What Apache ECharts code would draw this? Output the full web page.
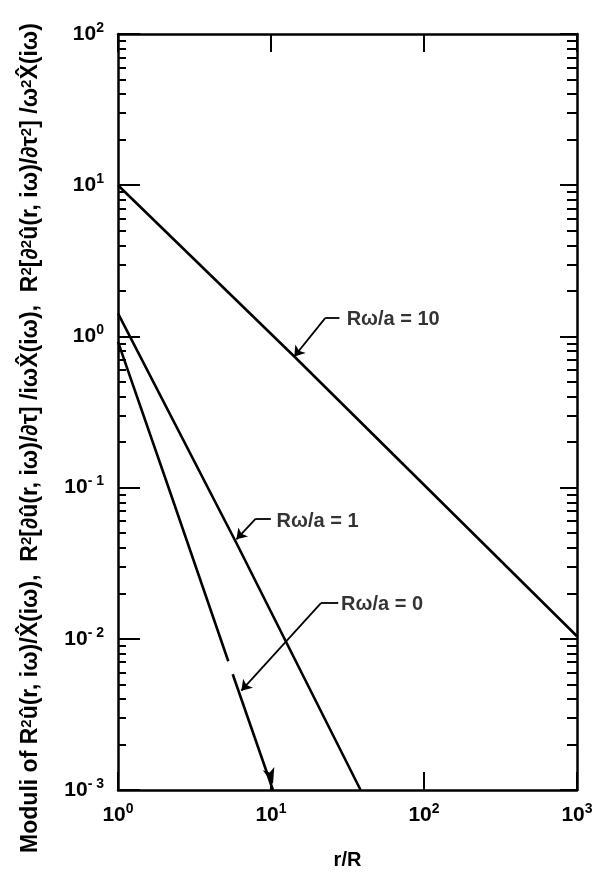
<!DOCTYPE html>
<html>
<head>
<meta charset="utf-8">
<script src="https://cdn.jsdelivr.net/npm/echarts@6/dist/echarts.min.js"></script>
<style>
html,body{margin:0;padding:0;background:#fff;}
#c{width:596px;height:875px;}
</style>
</head>
<body>
<div id="c"></div>
<script>
// ---- data ----
const xTickValues = [1, 10, 100, 1000];
const yTickValues = [0.001, 0.01, 0.1, 1, 10, 100];

const r10 = [1, 14.2, 1000];
const v10 = [10, 0.736, 0.0104];

const r1 = [1, 5.94, 12.8, 38.5];
const v1 = [1.42, 0.043, 0.00917, 0.001];

// Rω/a = 0 curve is drawn with a small break in it
const r0a = [1, 2.21, 5.26];
const v0a = [0.92, 0.091, 0.0071];
const r0b = [5.62, 10.3];
const v0b = [0.00583, 0.001];

// leader lines: [start of horizontal, corner, arrow tip]
const leader10R = [28.0, 22.6, 14.2];
const leader10V = [1.32, 1.32, 0.736];
const leader1R = [9.98, 7.95, 5.94];
const leader1V = [0.0624, 0.0624, 0.0455];
const leader0R = [27.5, 21.2, 6.4];
const leader0V = [0.0172, 0.0172, 0.00454];

const labelTexts = ['Rω/a = 10', 'Rω/a = 1', 'Rω/a = 0'];
const labelR = [31.0, 10.8, 28.5];
const labelV = [1.30, 0.0596, 0.0168];

// minor tick positions of the log axis (2..9 per decade)
const minorY = [];
[0.001, 0.01, 0.1, 1, 10].forEach(d => { for (let k = 2; k <= 9; k++) minorY.push(+(d * k).toPrecision(3)); });

const zip = (a, b) => a.map((x, i) => [x, b[i]]);
const leaders = [[leader10R, leader10V], [leader1R, leader1V], [leader0R, leader0V]];

const FONT = '"Liberation Sans", Arial, sans-serif';
const rich = {
  b: { fontSize: 21, fontWeight: 'bold', fontFamily: FONT, color: '#000', lineHeight: 26 },
  s: { fontSize: 14, fontWeight: 'bold', fontFamily: FONT, color: '#000', verticalAlign: 'top', lineHeight: 12 }
};
function powLabel(v) {
  const e = Math.round(Math.log10(v));
  return '{b|10}{s|' + (e < 0 ? '- ' + (-e) : e) + '}';
}

const axisLineStyle = { color: '#000', width: 2.5 };
const baseLog = (extra) => Object.assign({
  type: 'log', logBase: 10, splitLine: { show: false }, minorTick: { show: false }
}, extra);

const chart = echarts.init(document.getElementById('c'), null, { renderer: 'canvas' });

const option = {
  animation: false,
  backgroundColor: '#fff',
  grid: { left: 118, right: 19, top: 34, bottom: 72, containLabel: false },
  xAxis: [
    baseLog({
      position: 'bottom', min: 1, max: 1000,
      axisLine: { show: true, lineStyle: axisLineStyle },
      axisTick: { show: true, inside: true, length: 18, customValues: xTickValues, lineStyle: { color: '#000', width: 2 } },
      axisLabel: { show: true, customValues: xTickValues, formatter: powLabel, rich: rich, margin: 12 },
      name: 'r/R', nameLocation: 'middle', nameGap: 60,
      nameTextStyle: { fontSize: 20, fontWeight: 'bold', fontFamily: FONT, color: '#000' }
    }),
    baseLog({
      position: 'top', min: 1, max: 1000,
      axisLine: { show: true, lineStyle: axisLineStyle },
      axisTick: { show: true, inside: true, length: 18, customValues: xTickValues, lineStyle: { color: '#000', width: 2 } },
      axisLabel: { show: false }
    })
  ],
  yAxis: [
    baseLog({
      position: 'left', min: 0.001, max: 100,
      axisLine: { show: true, lineStyle: axisLineStyle },
      axisTick: { show: true, inside: true, length: 22, customValues: yTickValues, lineStyle: { color: '#000', width: 2 } },
      axisLabel: { show: true, customValues: yTickValues, formatter: powLabel, rich: rich, margin: 14 }
    }),
    baseLog({
      position: 'left', min: 0.001, max: 100,
      axisLine: { show: false },
      axisTick: { show: true, inside: true, length: 8, customValues: minorY, lineStyle: { color: '#000', width: 2 } },
      axisLabel: { show: false }
    }),
    baseLog({
      position: 'right', min: 0.001, max: 100,
      axisLine: { show: true, lineStyle: axisLineStyle },
      axisTick: { show: true, inside: true, length: 17, customValues: yTickValues, lineStyle: { color: '#000', width: 2 } },
      axisLabel: { show: false }
    }),
    baseLog({
      position: 'right', min: 0.001, max: 100,
      axisLine: { show: false },
      axisTick: { show: true, inside: true, length: 10, customValues: minorY, lineStyle: { color: '#000', width: 2 } },
      axisLabel: { show: false }
    })
  ],
  graphic: [{
    type: 'text',
    x: 31, y: 438,
    rotation: Math.PI / 2,
    style: {
      text: 'Moduli of R{s|2}û(r, iω)/X̂(iω),  R{s|2}[∂û(r, iω)/∂τ] /iωX̂(iω),  R{s|2}[∂{s|2}û(r, iω)/∂τ{s|2}] /ω{s|2}X̂(iω)',
      font: 'bold 23px ' + FONT,
      fill: '#000',
      align: 'center',
      verticalAlign: 'middle',
      rich: {
        s: { fontSize: 15, fontWeight: 'bold', fontFamily: FONT, fill: '#000', verticalAlign: 'top', lineHeight: 12 }
      }
    }
  }],
  series: [
    { type: 'line', name: 'Rω/a = 10', data: zip(r10, v10), symbol: 'none', lineStyle: { color: '#000', width: 2.6 } },
    { type: 'line', name: 'Rω/a = 1', data: zip(r1, v1), symbol: 'none', lineStyle: { color: '#000', width: 2.6 } },
    { type: 'line', name: 'Rω/a = 0 (a)', data: zip(r0a, v0a), symbol: 'none', lineStyle: { color: '#000', width: 2.6 } },
    {
      type: 'line', name: 'Rω/a = 0 (b)', symbol: 'none', clip: false,
      data: zip(r0b, v0b).map((p, i, arr) => i === arr.length - 1
        ? { value: p, symbol: 'arrow', symbolSize: [9, 16], symbolRotate: 196, symbolOffset: [0, -6], itemStyle: { color: '#000' } }
        : p),
      lineStyle: { color: '#000', width: 2.6 }
    },
    {
      type: 'lines', coordinateSystem: 'cartesian2d',
      symbol: 'none',
      lineStyle: { color: '#000', width: 1.8, opacity: 1 },
      data: leaders.map(([R, V]) => ({ coords: [[R[0], V[0]], [R[1], V[1]]] }))
    },
    {
      type: 'lines', coordinateSystem: 'cartesian2d',
      symbol: ['none', 'arrow'], symbolSize: 10,
      lineStyle: { color: '#000', width: 1.8, opacity: 1 },
      data: leaders.map(([R, V]) => ({ coords: [[R[1], V[1]], [R[2], V[2]]] }))
    },
    {
      type: 'scatter', symbol: 'circle', symbolSize: 1,
      itemStyle: { color: 'rgba(0,0,0,0)' },
      data: labelTexts.map((t, i) => ({ value: [labelR[i], labelV[i]], name: t })),
      label: {
        show: true, position: 'right', distance: 0,
        formatter: p => p.name,
        fontSize: 20, fontWeight: 'bold', fontFamily: FONT, color: '#000'
      }
    }
  ]
};
chart.setOption(option);
</script>
</body>
</html>
